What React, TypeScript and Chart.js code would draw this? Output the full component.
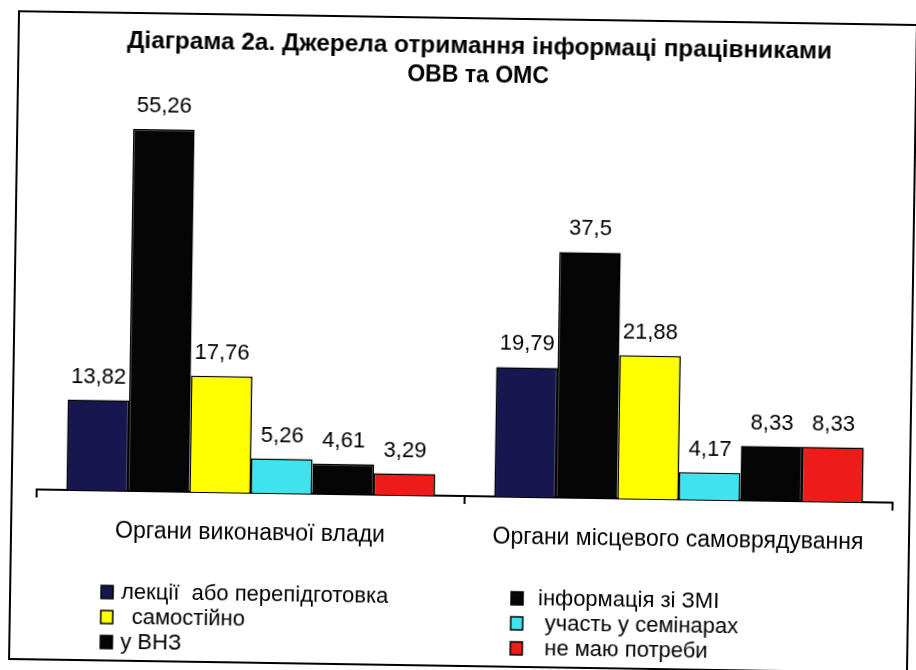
import React, { useEffect, useRef } from "react";
import { Chart, registerables } from "chart.js";

Chart.register(...registerables);

const categories = ["Органи виконавчої влади", "Органи місцевого самоврядування"];
const seriesNames = [
  "лекції  або перепідготовка",
  "у ВНЗ",
  "самостійно",
  "участь у семінарах",
  "інформація зі ЗМІ",
  "не маю потреби",
];
const lectures = [13.82, 19.79];
const university = [55.26, 37.5];
const selfStudy = [17.76, 21.88];
const seminars = [5.26, 4.17];
const media = [4.61, 8.33];
const noNeed = [3.29, 8.33];
const seriesColors = ["#17174f", "#050505", "#ffff00", "#3fe3ee", "#050505", "#ee1b1b"];
const titleLines = ["Діаграма 2а. Джерела отримання інформаці працівниками", "ОВВ та ОМС"];
const legendLeft = [0, 2, 1];
const legendRight = [4, 3, 5];

const FONT = "'Liberation Sans', Arial, sans-serif";
const fmt = (v: number) => String(v).replace(".", ",");

const overlayPlugin = {
  id: "overlay",
  afterDraw(chart: any) {
    const ctx = chart.ctx as CanvasRenderingContext2D;
    ctx.save();
    // title
    ctx.fillStyle = "#000";
    ctx.textAlign = "center";
    ctx.textBaseline = "middle";
    ctx.font = "bold 23px " + FONT;
    const w1 = ctx.measureText(titleLines[0]).width;
    const sx = 705 / w1;
    ctx.save();
    ctx.translate(460, 28);
    ctx.scale(sx, 1);
    ctx.fillText(titleLines[0], 0, 0);
    ctx.restore();
    ctx.fillText(titleLines[1], 459, 57);
    // data labels
    ctx.font = "22px " + FONT;
    chart.data.datasets.forEach((ds: any, di: number) => {
      const meta = chart.getDatasetMeta(di);
      meta.data.forEach((bar: any, i: number) => {
        ctx.fillText(fmt(ds.data[i]), bar.x, bar.y - 23);
      });
    });
    // legend
    ctx.textAlign = "left";
    ctx.font = "22px " + FONT;
    const rows = [578, 603, 628];
    const drawCol = (idxs: number[], sqX: number, textXs: number[]) => {
      idxs.forEach((si, r) => {
        const y = rows[r];
        ctx.fillStyle = seriesColors[si];
        ctx.fillRect(sqX, y - 6, 12, 13);
        ctx.strokeStyle = "#000";
        ctx.lineWidth = 1.5;
        ctx.strokeRect(sqX, y - 6, 12, 13);
        ctx.fillStyle = "#000";
        ctx.fillText(seriesNames[si], textXs[r], y + 1);
      });
    };
    drawCol(legendLeft, 90, [110, 121, 110]);
    drawCol(legendRight, 500, [527, 534, 534]);
    ctx.restore();
  },
};

export default function App() {
  const ref = useRef<HTMLCanvasElement | null>(null);
  useEffect(() => {
    if (!ref.current) return;
    const all = [lectures, university, selfStudy, seminars, media, noNeed];
    const chart = new Chart(ref.current, {
      type: "bar",
      data: {
        labels: categories,
        datasets: all.map((d, i) => ({
          label: seriesNames[i],
          data: d,
          backgroundColor: seriesColors[i],
          borderColor: "#000",
          borderWidth: 1.5,
          categoryPercentage: 0.862,
          barPercentage: 1,
        })),
      },
      options: {
        responsive: false,
        animation: false,
        layout: { padding: { left: 24, right: 16, top: 84, bottom: 109 } },
        plugins: {
          legend: { display: false },
          title: { display: false },
          tooltip: { enabled: false },
        },
        scales: {
          y: { display: false, min: 0, max: 60 },
          x: {
            afterFit: (s: any) => {
              s.height = 60;
            },
            grid: {
              display: true,
              drawOnChartArea: false,
              drawTicks: true,
              tickLength: 8,
              color: "#000",
              lineWidth: 2,
              offset: true,
            },
            border: { display: true, color: "#000", width: 2 },
            ticks: {
              color: "#000",
              padding: 19,
              font: { family: FONT, size: 23 },
            },
          },
        },
      },
      plugins: [overlayPlugin],
    });
    return () => chart.destroy();
  }, []);
  return (
    <div style={{ position: "fixed", left: 0, top: 0, width: 916, height: 670, background: "#fff", overflow: "hidden" }}>
      <div
        style={{
          position: "absolute",
          left: 13,
          top: 17,
          width: 900,
          height: 650,
          boxSizing: "border-box",
          border: "2px solid #000",
          background: "#fff",
          transform: "rotate(0.88deg)",
          transformOrigin: "center",
        }}
      >
        <canvas ref={ref} width={896} height={646} style={{ display: "block" }} />
      </div>
    </div>
  );
}
